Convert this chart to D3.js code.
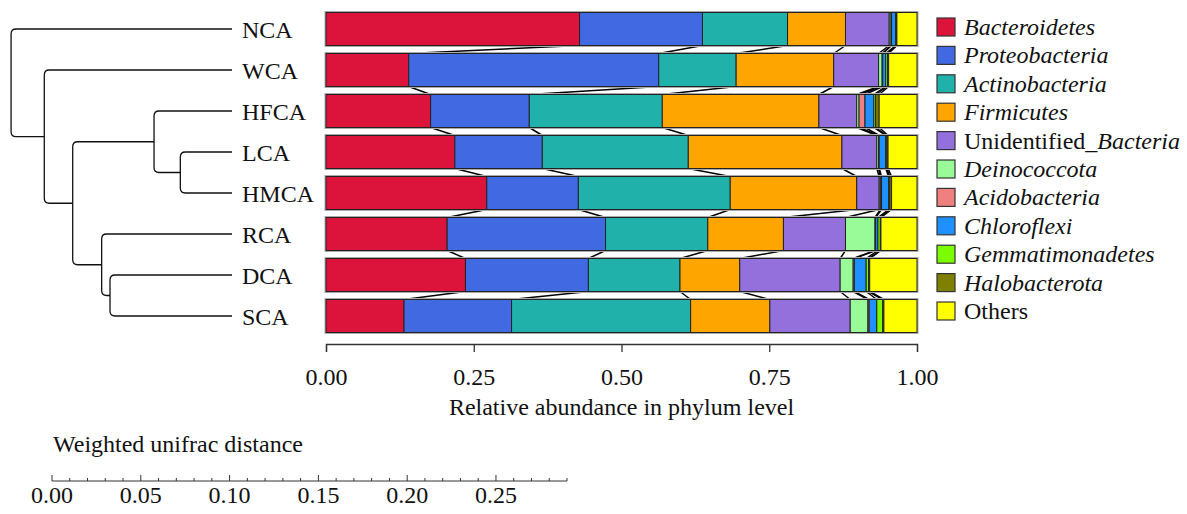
<!DOCTYPE html>
<html>
<head>
<meta charset="utf-8">
<script src="https://cdn.jsdelivr.net/npm/d3@7"></script>
<style>
  html, body { margin: 0; padding: 0; background: #fff; }
  svg { display: block; }
  text { font-family: "Liberation Serif", "Times New Roman", serif; fill: #111; }
</style>
</head>
<body>
<svg id="chart" width="1187" height="514"></svg>
<script>
// ---------------- data ----------------
const samples = ["NCA", "WCA", "HFCA", "LCA", "HMCA", "RCA", "DCA", "SCA"];
const phyla = ["Bacteroidetes", "Proteobacteria", "Actinobacteria", "Firmicutes",
  "Unidentified_Bacteria", "Deinococcota", "Acidobacteria", "Chloroflexi",
  "Gemmatimonadetes", "Halobacterota", "Others"];
const phylaColors = ["#DC143C", "#4169E1", "#20B2AA", "#FFA500", "#9370DB", "#98FB98",
  "#F08080", "#1E90FF", "#7CFC00", "#808000", "#FFFF00"];

const Bacteroidetes    = [0.429, 0.140, 0.177, 0.218, 0.272, 0.205, 0.236, 0.132];
const Proteobacteria   = [0.208, 0.423, 0.167, 0.148, 0.155, 0.268, 0.208, 0.182];
const Actinobacteria   = [0.144, 0.131, 0.225, 0.247, 0.257, 0.173, 0.155, 0.303];
const Firmicutes       = [0.098, 0.165, 0.265, 0.260, 0.214, 0.128, 0.101, 0.134];
const Unidentified     = [0.074, 0.076, 0.064, 0.059, 0.038, 0.105, 0.170, 0.136];
const Deinococcota     = [0.003, 0.006, 0.004, 0.003, 0.002, 0.050, 0.022, 0.030];
const Acidobacteria    = [0.001, 0.001, 0.010, 0.001, 0.002, 0.001, 0.002, 0.002];
const Chloroflexi      = [0.007, 0.005, 0.015, 0.011, 0.012, 0.004, 0.020, 0.013];
const Gemmatimonadetes = [0.001, 0.003, 0.003, 0.002, 0.002, 0.004, 0.004, 0.010];
const Halobacterota    = [0.001, 0.002, 0.006, 0.002, 0.003, 0.001, 0.002, 0.002];
const Others           = [0.034, 0.048, 0.064, 0.049, 0.043, 0.061, 0.080, 0.056];

const xTicks = [0, 0.25, 0.5, 0.75, 1.0];
const distTicksMajor = [0, 0.05, 0.10, 0.15, 0.20, 0.25];
const distMax = 0.29;

// dendrogram merges (weighted unifrac distance)
const mergeLeft   = ["LCA",  "HFCA", "DCA",  "RCA",  "n1",   "WCA",  "NCA"];
const mergeRight  = ["HMCA", "n0",   "SCA",  "n2",   "n3",   "n4",   "n5"];
const mergeHeight = [0.0291, 0.0439, 0.0687, 0.0734, 0.0897, 0.1057, 0.1244];

// ---------------- chart ----------------
const svg = d3.select("#chart");
const series = [Bacteroidetes, Proteobacteria, Actinobacteria, Firmicutes, Unidentified,
  Deinococcota, Acidobacteria, Chloroflexi, Gemmatimonadetes, Halobacterota, Others];

const x = d3.scaleLinear().domain([0, 1]).range([326, 917]);
const y = d3.scaleBand().domain(samples).range([8.5, 336.5]).paddingInner(8 / 41).paddingOuter(4 / 41);
const bw = y.bandwidth();

// build table
const rows = samples.map((s, i) => {
  const r = { sample: s };
  phyla.forEach((p, k) => r[p] = series[k][i]);
  return r;
});
const stacked = d3.stack().keys(phyla)(rows);

// flows (lines linking boundaries between consecutive bars)
const flowG = svg.append("g");
for (let k = 0; k < phyla.length - 1; k++) {
  for (let i = 0; i < samples.length - 1; i++) {
    const a = stacked[k][i][1], b = stacked[k][i + 1][1];
    flowG.append("line")
      .attr("x1", x(a)).attr("y1", y(samples[i]) + bw)
      .attr("x2", x(b)).attr("y2", y(samples[i + 1]))
      .attr("stroke", "#000").attr("stroke-width", 1.5);
  }
}

// bar halo
svg.append("g").selectAll("rect").data(samples).join("rect")
  .attr("x", x(0)).attr("y", d => y(d)).attr("width", x(1) - x(0)).attr("height", bw)
  .attr("fill", "none").attr("stroke", "#aaa").attr("stroke-width", 3);

// bars
const barG = svg.append("g");
stacked.forEach((layer, k) => {
  barG.append("g").selectAll("rect").data(layer).join("rect")
    .attr("x", d => x(d[0]))
    .attr("y", d => y(d.data.sample))
    .attr("width", d => Math.max(0, x(d[1]) - x(d[0])))
    .attr("height", bw)
    .attr("fill", phylaColors[k])
    .attr("stroke", "#222").attr("stroke-width", 1);
});

// x axis
const axisY = 344;
const xAxis = svg.append("g").attr("transform", `translate(0,${axisY})`)
  .call(d3.axisBottom(x).tickValues(xTicks).tickFormat(d3.format(".2f")).tickSize(8).tickSizeOuter(8).tickPadding(16));
xAxis.selectAll("path,line").attr("stroke", "#333").attr("stroke-width", 1.3);
xAxis.selectAll("text").attr("font-size", 24).attr("font-family", "Liberation Serif").attr("fill", "#111");
svg.append("text").attr("x", (x(0) + x(1)) / 2).attr("y", 415).attr("text-anchor", "middle")
  .attr("font-size", 24).text("Relative abundance in phylum level");

// sample labels
svg.append("g").selectAll("text").data(samples).join("text")
  .attr("x", 242).attr("y", d => y(d) + bw / 2 + 8.5)
  .attr("font-size", 24).text(d => d);

// dendrogram
const leafX = 232;
const xd = d3.scaleLinear().domain([0, distMax]).range([leafX, leafX - 515]);
const nodes = {};
samples.forEach(s => nodes[s] = { x: leafX, y: y(s) + bw / 2 });
const r = 5;
const dendG = svg.append("g");
mergeLeft.forEach((l, i) => {
  const A = nodes[l], B = nodes[mergeRight[i]];
  const px = xd(mergeHeight[i]);
  const top = A.y < B.y ? A : B, bot = A.y < B.y ? B : A;
  const p = d3.path();
  p.moveTo(top.x, top.y);
  p.lineTo(px + r, top.y);
  p.quadraticCurveTo(px, top.y, px, top.y + r);
  p.lineTo(px, bot.y - r);
  p.quadraticCurveTo(px, bot.y, px + r, bot.y);
  p.lineTo(bot.x, bot.y);
  dendG.append("path").attr("d", p.toString()).attr("fill", "none")
    .attr("stroke", "#111").attr("stroke-width", 1.3);
  nodes["n" + i] = { x: px, y: (A.y + B.y) / 2 };
});

// distance ruler
const xr = d3.scaleLinear().domain([0, distMax]).range([52, 567]);
const rulerY = 481;
const rg = svg.append("g");
rg.append("line").attr("x1", xr(0)).attr("x2", xr(distMax)).attr("y1", rulerY).attr("y2", rulerY)
  .attr("stroke", "#333").attr("stroke-width", 1);
const minor = d3.range(0, Math.round(distMax * 100) + 1).map(d => d / 100);
rg.selectAll("line.t").data(minor).join("line").attr("class", "t")
  .attr("x1", d => xr(d)).attr("x2", d => xr(d))
  .attr("y1", rulerY).attr("y2", d => (Math.round(d * 100) % 5 === 0) ? rulerY - 6 : rulerY - 3)
  .attr("stroke", "#333").attr("stroke-width", 1);
rg.selectAll("text").data(distTicksMajor).join("text")
  .attr("x", d => xr(d)).attr("y", 503).attr("text-anchor", "middle")
  .attr("font-size", 24).text(d => d3.format(".2f")(d));
svg.append("text").attr("x", 53).attr("y", 452).attr("font-size", 24).text("Weighted unifrac distance");

// legend
const lg = svg.append("g");
phyla.forEach((p, k) => {
  const cy = 27 + k * 28.4;
  lg.append("rect").attr("x", 937).attr("y", cy - 9).attr("width", 18).attr("height", 18)
    .attr("fill", phylaColors[k]).attr("stroke", "#333").attr("stroke-width", 1.2);
  const t = lg.append("text").attr("x", 964).attr("y", cy + 8).attr("font-size", 24);
  if (p === "Unidentified_Bacteria") {
    t.append("tspan").text("Unidentified_");
    t.append("tspan").attr("font-style", "italic").text("Bacteria");
  } else if (p === "Others") {
    t.text("Others");
  } else {
    t.attr("font-style", "italic").text(p);
  }
});
</script>
</body>
</html>
